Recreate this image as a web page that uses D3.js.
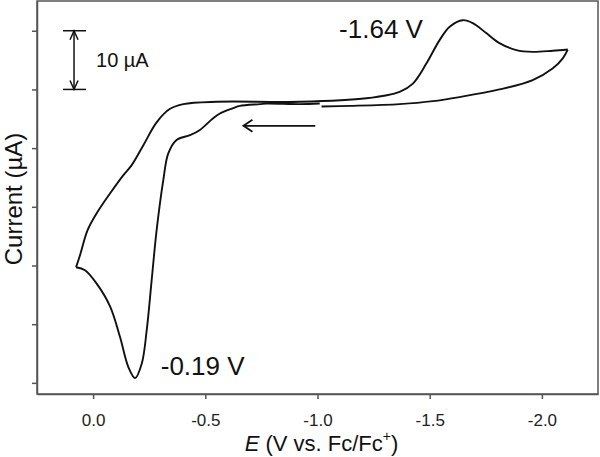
<!DOCTYPE html>
<html>
<head>
<meta charset="utf-8">
<script src="https://cdn.jsdelivr.net/npm/d3@7"></script>
<style>
  body { margin: 0; background: #fff; }
  text { font-family: "Liberation Sans", Arial, sans-serif; fill: #111; }
  .trace { fill: none; stroke: #111; stroke-width: 1.9; stroke-linejoin: round; }
  .axis path, .axis line { stroke: #555; stroke-width: 1.5; }
  .axis text { font-size: 17px; fill: #222; }
</style>
</head>
<body>
<div id="chart"></div>
<script>
// cyclic voltammogram (E in V vs Fc/Fc+, current in uA, arbitrary zero)
// scan starts near -1.0 V and goes toward positive potentials
var fwdE = [-1.010, -0.921, -0.773, -0.743, -0.654, -0.624, -0.565, -0.535, -0.476, -0.432, -0.372, -0.335, -0.313, -0.283, -0.261, -0.239, -0.217, -0.187, -0.157, -0.120, -0.076, -0.016, 0.036, 0.076]
var fwdI = [17.6, 17.5, 17.6, 17.5, 17.2, 16.8, 15.9, 15.1, 13.1, 12.2, 11.4, 9.1, 4.6, -4.0, -12.5, -21.0, -26.7, -29.2, -27.3, -22.2, -17.0, -13.1, -10.8, -10.3]

var revE = [0.076, 0.058, 0.025, -0.016, -0.076, -0.135, -0.172, -0.224, -0.283, -0.343, -0.402, -0.551, -0.921, -1.218, -1.366, -1.425, -1.485, -1.544, -1.589, -1.648, -1.692, -1.752, -1.811, -1.886, -1.959, -2.049, -2.115]
var revI = [-10.3, -8.2, -4.0, -1.1, 2.3, 5.4, 7.1, 10.5, 14.4, 16.7, 17.5, 17.9, 17.9, 18.5, 19.6, 21.0, 24.4, 28.4, 30.7, 31.8, 31.3, 29.6, 27.9, 26.7, 26.4, 26.6, 26.8]

var backE = [-2.115, -2.093, -2.049, -1.959, -1.811, -1.633, -1.514, -1.366, -1.144, -1.018]
var backI = [26.8, 25.3, 23.6, 21.6, 20.0, 18.7, 18.0, 17.5, 17.2, 17.1]

var xTicks = [0, -0.5, -1.0, -1.5, -2.0]
var yTicks = [-30, -20, -10, 0, 10, 20, 30]

var peaks = [{E: -1.64, I: 31.8, label: '-1.64 V'}, {E: -0.19, I: -29.2, label: '-0.19 V'}]
var scaleBar = {E: 0.085, from: 20, to: 30, label: '10 \u00b5A'}
var arrowE = [-0.99, -0.67]
var arrowI = 13.8

var totalW = 600, totalH = 457
var margin = {left: 37, right: 2, top: 1, bottom: 63}
var width = totalW - margin.left - margin.right
var height = totalH - margin.top - margin.bottom

var svg = d3.select('#chart').append('svg')
  .attr('width', totalW).attr('height', totalH)
var g = svg.append('g').attr('transform', 'translate(' + margin.left + ',' + margin.top + ')')

var x = d3.scaleLinear().domain([0.25, -2.25]).range([0, width])
var y = d3.scaleLinear().domain([-31.9, 35.07]).range([height, 0])

// axes
g.append('g').attr('class', 'axis')
  .attr('transform', 'translate(0,' + height + ')')
  .call(d3.axisBottom(x).tickValues(xTicks).tickSize(5).tickPadding(15).tickSizeOuter(0)
    .tickFormat(d3.format('.1f')))
  .selectAll('text').text(function(d){ return d3.format('.1f')(d).replace('\u2212', '-') })

g.append('g').attr('class', 'axis')
  .call(d3.axisLeft(y).tickValues(yTicks).tickSize(5).tickSizeOuter(0).tickFormat(''))

g.append('rect').attr('width', width).attr('height', height)
  .attr('fill', 'none').attr('stroke', '#555').attr('stroke-width', 1.5)

// trace, drawn in three legs so the switching points stay sharp
var line = d3.line()
  .x(function(d){ return x(d[0]) })
  .y(function(d){ return y(d[1]) })
  .curve(d3.curveCatmullRom.alpha(0.5))

;[[fwdE, fwdI], [revE, revI], [backE, backI]].forEach(function(leg){
  g.append('path').attr('class', 'trace')
    .attr('d', line(d3.zip(leg[0], leg[1])))
})

// peak labels
g.append('text').attr('x', x(peaks[0].E) - 122).attr('y', y(peaks[0].I) + 18)
  .style('font-size', '26px').text(peaks[0].label)
g.append('text').attr('x', x(peaks[1].E) + 25).attr('y', y(peaks[1].I) - 3)
  .style('font-size', '26px').text(peaks[1].label)

// scale bar
var sb = g.append('g').attr('stroke', '#111').attr('stroke-width', 1.5).attr('fill', 'none')
var sx = x(scaleBar.E), y0 = y(scaleBar.from), y1 = y(scaleBar.to)
sb.append('line').attr('x1', sx - 11).attr('x2', sx + 12).attr('y1', y0).attr('y2', y0)
sb.append('line').attr('x1', sx - 11).attr('x2', sx + 12).attr('y1', y1).attr('y2', y1)
sb.append('line').attr('x1', sx).attr('x2', sx).attr('y1', y0).attr('y2', y1)
sb.append('path').attr('d', 'M' + (sx - 4) + ',' + (y1 + 9) + 'L' + sx + ',' + y1 + 'L' + (sx + 4) + ',' + (y1 + 9))
sb.append('path').attr('d', 'M' + (sx - 4) + ',' + (y0 - 9) + 'L' + sx + ',' + y0 + 'L' + (sx + 4) + ',' + (y0 - 9))
g.append('text').attr('x', sx + 22).attr('y', (y0 + y1) / 2 + 7)
  .style('font-size', '20px').text(scaleBar.label)

// scan direction arrow
var ax0 = x(arrowE[1]), ax1 = x(arrowE[0]), ay = y(arrowI)
var ar = g.append('g').attr('stroke', '#111').attr('stroke-width', 1.8).attr('fill', 'none')
ar.append('line').attr('x1', ax0).attr('x2', ax1).attr('y1', ay).attr('y2', ay)
ar.append('path').attr('d', 'M' + (ax0 + 9) + ',' + (ay - 6) + 'L' + ax0 + ',' + ay + 'L' + (ax0 + 9) + ',' + (ay + 6))

// axis titles
var xt = svg.append('text').attr('x', margin.left + x(-1.0) + 4).attr('y', 451)
  .attr('text-anchor', 'middle').style('font-size', '22px')
xt.append('tspan').style('font-style', 'italic').text('E')
xt.append('tspan').text(' (V vs. Fc/Fc')
xt.append('tspan').attr('dy', -10).style('font-size', '14px').text('+')
xt.append('tspan').attr('dy', 10).text(')')

svg.append('text').attr('transform', 'translate(22,199) rotate(-90)')
  .attr('text-anchor', 'middle').style('font-size', '24px').text('Current (\u00b5A)')
</script>
</body>
</html>
